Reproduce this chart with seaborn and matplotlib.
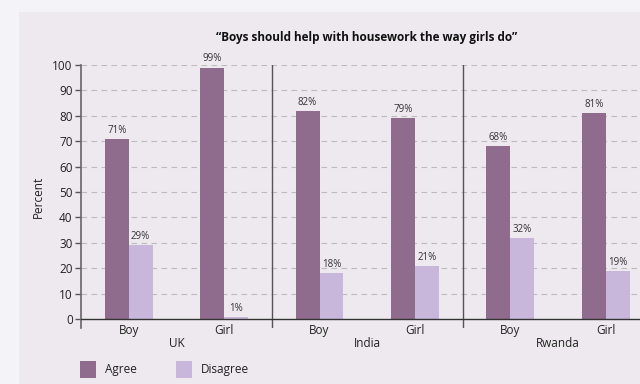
import matplotlib
matplotlib.use("Agg")
import matplotlib.pyplot as plt
from matplotlib.patches import Rectangle
import seaborn as sns
import pandas as pd

countries = ["UK", "India", "Rwanda"]
genders = ["Boy", "Girl"]
agree = [71, 99, 82, 79, 68, 81]
disagree = [29, 1, 18, 21, 32, 19]
series = ["Agree", "Disagree"]
title = "\u201cBoys should help with housework the way girls do\u201d"

cats = [f"{c} {g}" for c in countries for g in genders]
df = pd.DataFrame({
    "cat": cats * 2,
    "Response": [series[0]] * len(cats) + [series[1]] * len(cats),
    "value": agree + disagree,
})

sns.set_theme(style="white")
plt.rcParams["font.family"] = ["Open Sans", "DejaVu Sans"]

fig = plt.figure(figsize=(6.4, 3.84), dpi=100, facecolor="#f3f3f8")
panel_bg = "#ede9ee"
fig.patches.append(Rectangle((19 / 640, 0), 1, 1 - 12 / 384, transform=fig.transFigure,
                             facecolor=panel_bg, edgecolor="none", zorder=-10))
ax = fig.add_axes([81 / 640, 1 - 328 / 384, 1 - 81 / 640 + 0.001, (328 - 65) / 384])
ax.set_facecolor(panel_bg)

colors = {"Agree": "#8f6b8d", "Disagree": "#c8b7da"}
sns.barplot(data=df, x="cat", y="value", hue="Response", order=cats,
            palette=colors, width=0.5, ax=ax, legend=False, saturation=1,
            edgecolor="none", zorder=3)

for cont in ax.containers:
    for bar in cont:
        h = bar.get_height()
        ax.text(bar.get_x() + bar.get_width() / 2, h + 1.2, f"{int(h)}%",
                ha="center", va="bottom", fontsize=7, color="#333333", zorder=4)

ax.set_ylim(-3.5, 100)
ax.set_xlim(-0.5, 5.366)
ax.set_yticks(range(0, 101, 10))
ax.set_yticklabels([str(v) for v in range(0, 101, 10)], fontsize=8.5, color="#222222")
ax.set_xticks(range(len(cats)))
ax.set_xticklabels(genders * len(countries), fontsize=8.5, color="#222222")
ax.tick_params(axis="x", length=0, pad=-3)
ax.tick_params(axis="y", length=4, width=1, color="#555555", pad=2, left=True)
ax.set_xlabel("")
ax.set_ylabel("Percent", fontsize=8.5, color="#222222", labelpad=5)

for v in range(10, 101, 10):
    ax.axhline(v, color="#bbbbbb", linestyle=(0, (5, 4)), linewidth=0.8, zorder=1)
ax.axhline(0, color="#333333", linewidth=1.0, zorder=5)
for xv in [1.5, 3.5]:
    ax.axvline(xv, color="#555555", linewidth=1.0, zorder=2)

for s in ["top", "right", "bottom"]:
    ax.spines[s].set_visible(False)
ax.spines["left"].set_color("#666666")
ax.spines["left"].set_linewidth(1.2)

for i, c in enumerate(countries):
    ax.text(2 * i + 0.5, -0.036, c, transform=ax.get_xaxis_transform(),
            ha="center", va="top", fontsize=8.5, color="#222222")

fig.text(367 / 640, 1 - 37 / 384, title, ha="center", va="center",
         fontsize=8.5, fontweight="bold", color="#111111")

# legend
for i, (name, x0) in enumerate(zip(series, [80, 176])):
    fig.patches.append(Rectangle((x0 / 640, 1 - 378 / 384), 16 / 640, 17 / 384,
                                 transform=fig.transFigure, facecolor=colors[name],
                                 edgecolor="none"))
    fig.text((x0 + 25) / 640, 1 - 369 / 384, name, ha="left", va="center",
             fontsize=8.5, color="#222222")

fig.savefig("out.png", dpi=100, facecolor=fig.get_facecolor())
